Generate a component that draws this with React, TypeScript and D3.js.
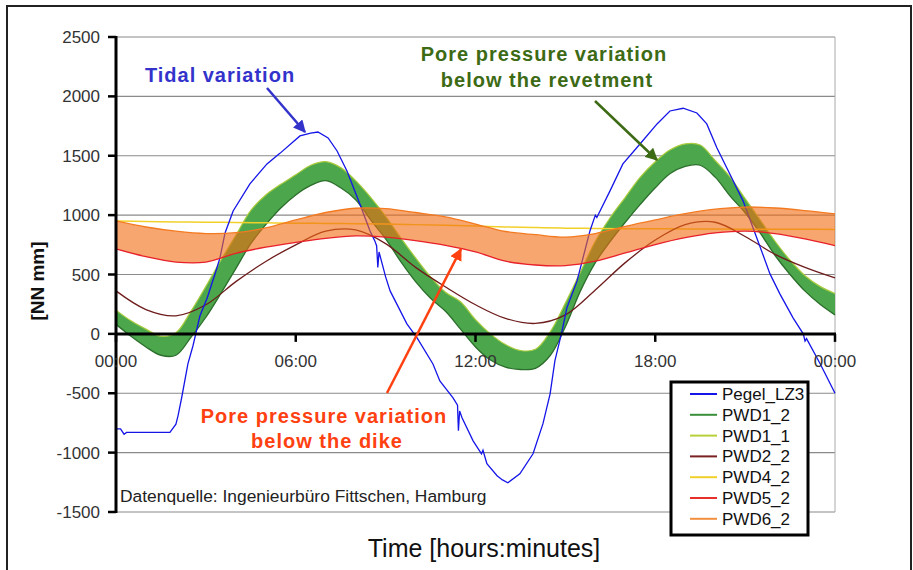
import * as d3 from "d3"

const W = 913
const H = 570
const PLOT = { left: 116, right: 835, top: 37, bottom: 512 }

const yTicks = [-1500, -1000, -500, 0, 500, 1000, 1500, 2000, 2500]
const xTicks = [0, 6, 12, 18, 24]
const xTickLabels = ["00:00", "06:00", "12:00", "18:00", "00:00"]

// hourly readings (NN mm)
const hours = [0, 1, 2, 3, 4, 5, 6, 7, 8, 9, 10, 11, 12, 13, 14, 15, 16, 17, 18, 19, 20, 21, 22, 23, 24]
const pwd6_2 = [951, 900, 865, 845, 852, 892, 960, 1022, 1058, 1055, 1022, 985, 925, 862, 835, 815, 845, 905, 960, 1012, 1050, 1068, 1060, 1038, 1010]
const pwd5_2 = [715, 650, 605, 605, 678, 730, 770, 805, 825, 815, 785, 745, 690, 612, 580, 575, 612, 682, 752, 810, 850, 866, 845, 800, 743]
const pwd4_2 = [950, 946, 943, 940, 938, 935, 932, 930, 928, 925, 920, 915, 908, 900, 895, 890, 888, 886, 885, 884, 883, 882, 882, 881, 880]
const pwd2_2 = [362, 205, 152, 245, 440, 610, 750, 865, 875, 760, 560, 395, 245, 130, 88, 160, 370, 600, 790, 920, 940, 820, 670, 560, 471]

// half-hourly envelope of the revetment sensors
const halfHours = [0, 0.5, 1, 1.5, 2, 2.5, 3, 3.5, 4, 4.5, 5, 5.5, 6, 6.5, 7, 7.5, 8, 8.5, 9, 9.5, 10, 10.5, 11, 11.5, 12,
  12.5, 13, 13.5, 14, 14.5, 15, 15.5, 16, 16.5, 17, 17.5, 18, 18.5, 19, 19.5, 20, 20.5, 21, 21.5, 22, 22.5, 23, 23.5, 24]
const pwd1_1 = [200, 110, 40, -20, 10, 190, 400, 620, 830, 1040, 1170, 1260, 1340, 1420, 1450, 1400, 1290, 1150, 990, 810, 640, 480, 350, 270, 120,
  0, -90, -140, -130, 20, 260, 520, 780, 980, 1150, 1320, 1450, 1550, 1600, 1590, 1460, 1320, 1140, 960, 780, 620, 490, 400, 340]
const pwd1_2 = [80, -20, -110, -180, -180, -30, 140, 340, 550, 760, 920, 1060, 1170, 1250, 1290, 1230, 1130, 960, 800, 610, 440, 300, 190, 40, -110,
  -220, -280, -300, -290, -180, 60, 360, 600, 780, 940, 1090, 1230, 1350, 1410, 1420, 1320, 1160, 1020, 850, 660, 500, 360, 250, 160]

// tide gauge, irregular samples
const pegelTime = [0, 0.15, 0.27, 0.35, 1.8, 2.0, 2.07, 2.19, 2.4, 2.57, 2.8, 3.04, 3.3, 3.47, 3.64, 3.91, 4.47, 5.04, 5.47, 6.14, 6.5, 6.74,
  7.08, 7.38, 7.71, 8.14, 8.48, 8.64, 8.7, 8.74, 8.78, 9.0, 9.15, 9.71, 10.05, 10.58, 10.81, 11.25, 11.4, 11.43, 11.47, 11.55, 11.92,
  12.2, 12.25, 12.38, 12.72, 12.9, 13.08, 13.48, 13.92, 14.25, 14.49, 14.65, 14.89, 15.05, 15.39, 15.82, 16.0, 16.05, 16.49, 16.92,
  17.49, 18.06, 18.49, 18.93, 19.39, 19.72, 20.06, 20.39, 20.93, 21.39, 21.83, 22.16, 22.6, 22.94, 23.0, 23.05, 23.5, 24]
const pegelValue = [-800, -800, -845, -830, -830, -760, -690, -540, -253, -100, 150, 300, 500, 640, 850, 1035, 1263, 1431, 1520, 1667, 1690, 1700,
  1650, 1540, 1372, 1094, 867, 783, 740, 560, 690, 480, 362, 84, -34, -253, -396, -539, -600, -816, -650, -707, -901,
  -1010, -980, -1094, -1195, -1230, -1254, -1178, -1010, -758, -505, -227, 25, 219, 446, 867, 1000, 980, 1204, 1431,
  1599, 1768, 1877, 1900, 1860, 1768, 1566, 1397, 1120, 808, 505, 337, 135, 0, -60, -40, -250, -500]

const legendNames = ["Pegel_LZ3", "PWD1_2", "PWD1_1", "PWD2_2", "PWD4_2", "PWD5_2", "PWD6_2"]
const legendColors = ["#1515e8", "#3a8f3a", "#b8cf3a", "#7a2020", "#f2d02a", "#e8302a", "#f39040"]

const x = d3.scaleLinear().domain([0, 24]).range([PLOT.left, PLOT.right])
const y = d3.scaleLinear().domain([-1500, 2500]).range([PLOT.bottom, PLOT.top])

const smooth = d3.line<[number, number]>().x((d) => x(d[0])).y((d) => y(d[1])).curve(d3.curveCatmullRom)
const straight = d3.line<[number, number]>().x((d) => x(d[0])).y((d) => y(d[1]))
const band = d3
  .area<[number, number, number]>()
  .x((d) => x(d[0]))
  .y0((d) => y(d[2]))
  .y1((d) => y(d[1]))
  .curve(d3.curveCatmullRom)

const zip = (t: number[], v: number[]) => t.map((h, i) => [h, v[i]] as [number, number])
const zip3 = (t: number[], a: number[], b: number[]) => t.map((h, i) => [h, a[i], b[i]] as [number, number, number])

const FONT = "'Liberation Sans', Arial, sans-serif"

export default function App() {
  const label = { fontFamily: FONT, fontWeight: 700, fontSize: 20, letterSpacing: 1 }
  return (
    <svg width={W} height={H} style={{ position: "absolute", left: 0, top: 0, background: "#fff" }}>
      <defs>
        {[
          ["arrBlue", "#3333cc"],
          ["arrGreen", "#3d6a14"],
          ["arrRed", "#ff4010"],
        ].map(([id, c]) => (
          <marker key={id} id={id} viewBox="0 0 10 10" refX="9" refY="5" markerWidth="5" markerHeight="5" orient="auto">
            <path d="M0,0 L10,5 L0,10 z" fill={c} />
          </marker>
        ))}
      </defs>

      {/* outer frame */}
      <rect x={7} y={6} width={904} height={580} fill="none" stroke="#222" strokeWidth={2} />

      {/* grid */}
      {yTicks.map((t) => (
        <line key={t} x1={PLOT.left} x2={PLOT.right} y1={y(t)} y2={y(t)} stroke="#8a8a8a" strokeWidth={1.2} />
      ))}
      <line x1={PLOT.right} x2={PLOT.right} y1={PLOT.top} y2={PLOT.bottom} stroke="#aaa" strokeWidth={1} />

      {/* revetment envelope */}
      <path d={band(zip3(halfHours, pwd1_1, pwd1_2)) ?? ""} fill="#4ca64c" />
      <path d={smooth(zip(halfHours, pwd1_1)) ?? ""} fill="none" stroke="#a9cc3c" strokeWidth={1.2} />
      <path d={smooth(zip(halfHours, pwd1_2)) ?? ""} fill="none" stroke="#2c6e2c" strokeWidth={1.3} />

      <path d={smooth(zip(hours, pwd4_2)) ?? ""} fill="none" stroke="#f2d02a" strokeWidth={1.5} />
      <path d={smooth(zip(hours, pwd2_2)) ?? ""} fill="none" stroke="#6e1c1c" strokeWidth={1.3} />
      <path d={straight(zip(pegelTime, pegelValue)) ?? ""} fill="none" stroke="#1515e8" strokeWidth={1.3} />

      {/* dike envelope */}
      <path d={band(zip3(hours, pwd6_2, pwd5_2)) ?? ""} fill="#f26a10" fillOpacity={0.6} />
      <path d={smooth(zip(hours, pwd6_2)) ?? ""} fill="none" stroke="#f37a20" strokeWidth={1.3} />
      <path d={smooth(zip(hours, pwd5_2)) ?? ""} fill="none" stroke="#e8202a" strokeWidth={1.3} />

      {/* axes */}
      <line x1={PLOT.left} x2={PLOT.left} y1={PLOT.top - 1} y2={PLOT.bottom + 1} stroke="#000" strokeWidth={3} />
      {yTicks.map((t) => (
        <g key={t}>
          <line x1={PLOT.left - 8} x2={PLOT.left} y1={y(t)} y2={y(t)} stroke="#000" strokeWidth={2.5} />
          <text x={100} y={y(t) + 6} textAnchor="end" fontFamily={FONT} fontSize={17} fill="#333">
            {t}
          </text>
        </g>
      ))}
      <line x1={PLOT.left} x2={PLOT.right + 1} y1={y(0)} y2={y(0)} stroke="#000" strokeWidth={3} />
      {xTicks.map((t, i) => (
        <g key={i}>
          <line x1={x(t)} x2={x(t)} y1={y(0)} y2={y(0) + 8} stroke="#000" strokeWidth={2.5} />
          <text x={x(t)} y={y(0) + 33} textAnchor="middle" fontFamily={FONT} fontSize={17} fill="#333">
            {xTickLabels[i]}
          </text>
        </g>
      ))}

      <text transform="translate(44,281) rotate(-90)" textAnchor="middle" fontFamily={FONT} fontWeight={700} fontSize={19} fill="#111">
        [NN mm]
      </text>
      <text x={484} y={557} textAnchor="middle" fontFamily={FONT} fontSize={25} fill="#111">
        Time [hours:minutes]
      </text>
      <text x={120} y={502} fontFamily={FONT} fontSize={17.4} fill="#222">
        Datenquelle: Ingenieurbüro Fittschen, Hamburg
      </text>

      {/* annotations */}
      <text x={220} y={82} textAnchor="middle" fill="#3333cc" {...label}>
        Tidal variation
      </text>
      <line x1={267} y1={88} x2={305} y2={132} stroke="#3333cc" strokeWidth={2.5} markerEnd="url(#arrBlue)" />

      <text x={544} y={61} textAnchor="middle" fill="#3d6a14" {...label}>
        Pore pressure variation
      </text>
      <text x={547} y={87} textAnchor="middle" fill="#3d6a14" {...label}>
        below the revetment
      </text>
      <line x1={595} y1={101} x2={657} y2={160} stroke="#3d6a14" strokeWidth={2.5} markerEnd="url(#arrGreen)" />

      <text x={324} y={423} textAnchor="middle" fill="#ff4010" {...label}>
        Pore pressure variation
      </text>
      <text x={327} y={448} textAnchor="middle" fill="#ff4010" {...label}>
        below the dike
      </text>
      <line x1={387} y1={393} x2={461} y2={249} stroke="#ff4010" strokeWidth={2.5} markerEnd="url(#arrRed)" />

      {/* legend */}
      <rect x={671} y={382} width={137} height={153} fill="#fff" stroke="#000" strokeWidth={3} />
      {legendNames.map((n, i) => (
        <g key={n} transform={`translate(0,${394 + i * 20.8})`}>
          <line x1={690} x2={717} y1={0} y2={0} stroke={legendColors[i]} strokeWidth={2} />
          <text x={722} y={6} fontFamily={FONT} fontSize={17} fill="#111">
            {n}
          </text>
        </g>
      ))}
    </svg>
  )
}
